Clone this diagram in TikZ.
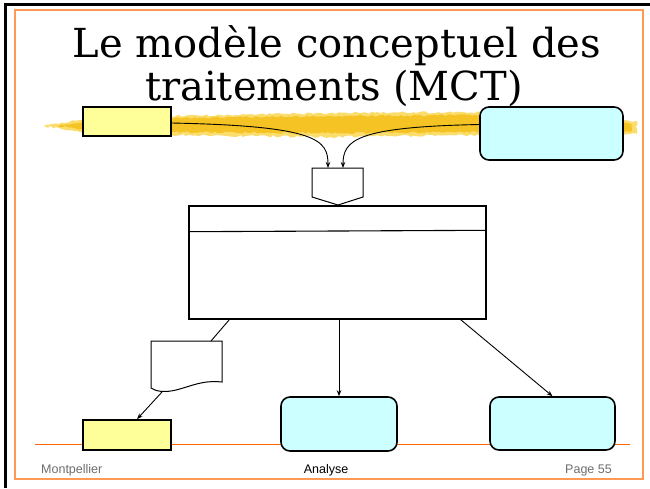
\documentclass[tikz,border=0pt]{standalone}
\usepackage{fontspec}
\setmainfont{DejaVu Serif}
\setsansfont{Liberation Sans}
\usetikzlibrary{arrows.meta,decorations.pathmorphing}
\definecolor{ylw}{HTML}{FFFF99}
\definecolor{cyn}{HTML}{CCFFFF}
\definecolor{frameor}{HTML}{FF9955}
\definecolor{lineor}{HTML}{FF6600}
\definecolor{brushA}{HTML}{F6C324}
\definecolor{brushB}{HTML}{FBDD6E}
\definecolor{foot}{HTML}{6E6E6E}
\begin{document}
\begin{tikzpicture}[x=1pt,y=-1pt,
  ybox/.style={draw=black, line width=1.6pt, fill=ylw, inner sep=0pt},
  cbox/.style={draw=black, line width=1.6pt, fill=cyn, rounded corners=9pt, inner sep=0pt},
  procbox/.style={draw=black, line width=1.3pt, fill=white, inner sep=0pt},
  link/.style={line width=0.9pt, -{Stealth[length=6pt,width=4.5pt]}},
  plainlink/.style={line width=0.9pt},
  footer/.style={font=\sffamily\fontsize{12.5}{15}\selectfont},
  titletext/.style={font=\fontsize{40}{45}\selectfont, inner sep=0pt}]
\useasboundingbox (0,0) rectangle (650,488);
\fill[white] (0,0) rectangle (650,488);

% slide frames
\draw[frameor, line width=1.2pt] (15,10) rectangle (643,479);
\draw[black, line width=3pt] (5.5,488) -- (5.5,4.5) -- (650,4.5);

% brush stroke under the title
\fill[brushB, decorate, decoration={random steps, segment length=3pt, amplitude=1.2pt}]
  (44,126) -- (80,120) -- (170,116) -- (330,113) -- (480,112) -- (600,119) -- (637,121)
  -- (637,134) -- (600,135) -- (480,135) -- (330,137) -- (170,135) -- (80,132) -- cycle;
\fill[brushA, decorate, decoration={random steps, segment length=2.5pt, amplitude=1pt}]
  (55,126) -- (90,122) -- (170,118) -- (330,116) -- (480,115) -- (600,121) -- (632,124)
  -- (632,131) -- (600,132) -- (480,132) -- (330,133) -- (170,132) -- (90,130) -- cycle;

% footer rule
\draw[lineor, line width=1pt] (35,444) -- (630,444);

% entities and actors
\node[ybox, minimum width=88pt, minimum height=29pt] (ytop) at (127,121.5) {};
\node[cbox, minimum width=143pt, minimum height=53pt] (ctop) at (551.5,133.5) {};
\node[ybox, minimum width=88pt, minimum height=30pt] (ybot) at (127,435) {};
\node[cbox, minimum width=116pt, minimum height=54pt] (cmid) at (339,424) {};
\node[cbox, minimum width=125pt, minimum height=53pt] (cright) at (552.5,423.5) {};

% operation box
\node[procbox, minimum width=297pt, minimum height=113pt] (op) at (337.5,262.5) {};
\draw[line width=1.1pt] (188,231.7) -- (486,230.3);

% synchronisation (event) shape
\draw[line width=1pt, fill=white] (312,168) -- (363,168) -- (363,197) -- (338,205) -- (312,197) -- cycle;
\coordinate (syncL) at (328,168);
\coordinate (syncR) at (343,168);

% result document
\draw[line width=1pt, fill=white] (151,341) -- (222,341) -- (222,382)
  .. controls (202,380) and (192,386) .. (176,390)
  .. controls (164,393) and (155,391) .. (151,388) -- cycle;
\coordinate (docT) at (211,341);
\coordinate (docB) at (162,392);

% connectors
\draw[link] ([yshift=-1.5pt]ytop.east) .. controls (318,126) and (328,140) .. (syncL);
\draw[link] ([yshift=9pt]ctop.west) .. controls (356,127) and (343,140) .. (syncR);
\draw[plainlink] ([xshift=41pt]op.south west) -- (docT);
\draw[link] (docB) -- ([xshift=10pt]ybot.north);
\draw[link] (cmid.north |- op.south) -- (cmid.north);
\draw[link] ([xshift=-26pt]op.south east) -- (cright.north);

% title
\node[titletext, anchor=base] (t1) at (337,57) {Le modèle conceptuel des};
\node[titletext, anchor=base] (t2) at (334,100) {traitements (MCT)};

% footer texts
\node[footer, text=foot, anchor=base west, inner sep=0pt] (fl) at (41,473) {Montpellier};
\node[footer, text=black, anchor=base, inner sep=0pt] (fc) at (326,473) {Analyse};
\node[footer, text=foot, anchor=base east, inner sep=0pt] (fr) at (612,473) {Page 55};
\end{tikzpicture}
\end{document}
